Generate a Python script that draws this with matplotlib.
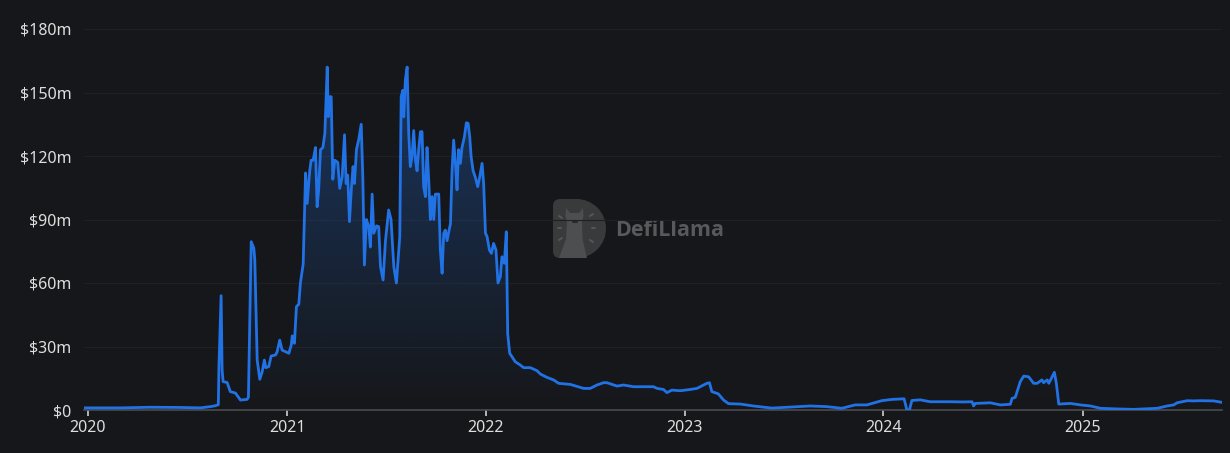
import numpy as np
import pandas as pd
import matplotlib
matplotlib.use("Agg")
import matplotlib.pyplot as plt
import matplotlib.dates as mdates
from matplotlib.patches import Polygon, Wedge, FancyBboxPatch
from matplotlib.ticker import FuncFormatter

# time as decimal year, TVL in $m
t_year = [2019.981, 2020.162, 2020.313, 2020.464, 2020.565, 2020.615, 2020.640, 2020.655,
          2020.658, 2020.669, 2020.674, 2020.679, 2020.699, 2020.715, 2020.741, 2020.766,
          2020.799, 2020.806, 2020.820, 2020.833, 2020.838, 2020.850, 2020.863, 2020.875,
          2020.886, 2020.893, 2020.908, 2020.920, 2020.942, 2020.950, 2020.963, 2020.975,
          2021.009, 2021.021, 2021.026, 2021.037, 2021.047, 2021.059, 2021.067, 2021.081,
          2021.093, 2021.101, 2021.114, 2021.121, 2021.131, 2021.143, 2021.151, 2021.159,
          2021.168, 2021.180, 2021.190, 2021.202, 2021.207, 2021.215, 2021.222, 2021.230,
          2021.240, 2021.255, 2021.265, 2021.277, 2021.289, 2021.297, 2021.305, 2021.314,
          2021.324, 2021.332, 2021.339, 2021.349, 2021.361, 2021.373, 2021.381, 2021.389,
          2021.399, 2021.411, 2021.419, 2021.428, 2021.436, 2021.450, 2021.461, 2021.470,
          2021.483, 2021.495, 2021.511, 2021.523, 2021.537, 2021.550, 2021.562, 2021.567,
          2021.574, 2021.582, 2021.587, 2021.595, 2021.604, 2021.612, 2021.620, 2021.629,
          2021.637, 2021.646, 2021.654, 2021.662, 2021.671, 2021.679, 2021.687, 2021.696,
          2021.704, 2021.712, 2021.721, 2021.730, 2021.738, 2021.746, 2021.763, 2021.771,
          2021.780, 2021.788, 2021.796, 2021.805, 2021.813, 2021.822, 2021.830, 2021.838,
          2021.847, 2021.855, 2021.863, 2021.872, 2021.880, 2021.892, 2021.902, 2021.911,
          2021.919, 2021.926, 2021.936, 2021.947, 2021.959, 2021.969, 2021.981, 2021.989,
          2021.998, 2022.006, 2022.018, 2022.028, 2022.039, 2022.051, 2022.061, 2022.073,
          2022.081, 2022.093, 2022.103, 2022.110, 2022.120, 2022.148, 2022.174, 2022.190,
          2022.224, 2022.257, 2022.274, 2022.308, 2022.341, 2022.366, 2022.425, 2022.492,
          2022.525, 2022.559, 2022.592, 2022.609, 2022.660, 2022.693, 2022.743, 2022.844,
          2022.861, 2022.894, 2022.911, 2022.936, 2022.978, 2023.028, 2023.062, 2023.095,
          2023.112, 2023.125, 2023.137, 2023.170, 2023.196, 2023.221, 2023.280, 2023.346,
          2023.439, 2023.514, 2023.632, 2023.715, 2023.791, 2023.858, 2023.917, 2023.992,
          2024.042, 2024.104, 2024.118, 2024.131, 2024.143, 2024.185, 2024.235, 2024.335,
          2024.402, 2024.445, 2024.453, 2024.461, 2024.537, 2024.587, 2024.637, 2024.646,
          2024.662, 2024.687, 2024.704, 2024.729, 2024.754, 2024.771, 2024.796, 2024.804,
          2024.822, 2024.830, 2024.847, 2024.858, 2024.868, 2024.880, 2024.939, 2024.989,
          2025.039, 2025.090, 2025.174, 2025.257, 2025.375, 2025.425, 2025.458, 2025.475,
          2025.526, 2025.559, 2025.592, 2025.659, 2025.701]

tvl_m = [1.0, 1.0, 1.3, 1.2, 1.0, 1.6, 2.0, 2.5,
         20, 54, 19, 13.4, 13, 8.7, 8, 4.7,
         5, 6, 79.5, 76.5, 71, 23.6, 14.5, 18,
         23.6, 20, 20.5, 25.5, 26, 27.5, 33, 28.3,
         26.8, 30.7, 35, 31.5, 48.8, 50, 60, 69,
         112, 97.6, 113, 118, 118, 124, 96, 104,
         123, 124, 130.7, 162, 138.6, 148, 148, 109,
         118, 117, 104.7, 110, 130, 107, 111, 89,
         105.5, 115, 107, 123, 128, 135, 110, 68.5,
         90, 86.6, 77, 102, 83.5, 87, 86.6, 67.7,
         61.4, 80, 94.5, 90, 67.7, 60, 75.6, 82,
         148, 151, 138.5, 156, 162, 130.7, 115, 120,
         132, 118, 113, 123, 131.5, 131.5, 105.5, 100.8,
         124, 110, 90, 100.8, 90, 102, 102, 75.6,
         64.6, 83.5, 85, 80, 84, 88, 113, 127.5,
         116.5, 104, 123, 116.5, 124, 129, 135.7, 135.4,
         129, 119.7, 113, 110, 105.5, 110, 116.5, 107,
         83.5, 82, 75.6, 74, 78.7, 75.6, 60, 63,
         72.4, 69.3, 84.2, 36, 26.8, 22.8, 21.2, 20,
         20, 18.6, 17, 15.4, 14.2, 12.6, 12.1, 10.2,
         10.2, 11.8, 12.9, 12.9, 11.3, 11.8, 11, 11,
         10.2, 9.7, 8.2, 9.4, 9.1, 9.7, 10.2, 11.8,
         12.6, 12.9, 8.7, 7.6, 4.7, 3.0, 2.8, 1.9,
         0.9, 1.3, 1.9, 1.6, 0.8, 2.4, 2.4, 4.4,
         5, 5.3, 0, 0, 4.5, 4.8, 3.9, 3.9,
         3.8, 3.9, 1.9, 3.1, 3.4, 2.4, 2.7, 5.5,
         6, 13.4, 16, 15.7, 12.6, 12.6, 14.2, 12.9,
         14.2, 12.6, 15.7, 17.8, 12.6, 2.8, 3.1, 2.4,
         1.9, 0.8, 0.5, 0.3, 0.8, 1.9, 2.4, 3.4,
         4.4, 4.3, 4.4, 4.3, 3.6]

y_ticks = [0, 30, 60, 90, 120, 150, 180]


def to_dates(years):
    out = []
    for yv in years:
        yr = int(np.floor(yv))
        start = pd.Timestamp(year=yr, month=1, day=1)
        end = pd.Timestamp(year=yr + 1, month=1, day=1)
        out.append(start + (end - start) * (yv - yr))
    return pd.DatetimeIndex(out)


dates = to_dates(t_year)
x = mdates.date2num(dates)
y = np.array(tvl_m)

bg = "#16171a"
blue = "#2172e5"
plt.rcParams['font.family'] = ['Noto Sans', 'DejaVu Sans']

W, H = 1230, 453
fig = plt.figure(figsize=(W / 100, H / 100), dpi=100, facecolor=bg)
ax = fig.add_axes([84 / W, 43 / H, (1222 - 84) / W, (410 - 29) / H])
ax.set_facecolor(bg)
ax.patch.set_alpha(0)

# watermark logo: a small axes in pixel units, behind the main one
lg = fig.add_axes([553 / W, (H - 258) / H, 53 / W, 59 / H], zorder=-1)
lg.set_xlim(0, 53)
lg.set_ylim(59, 0)
lg.axis("off")
d_col = "#393a3c"
lg.add_patch(FancyBboxPatch((0, 0), 30, 59, boxstyle="round,pad=0,rounding_size=7",
                            fc=d_col, ec="none"))
lg.add_patch(Wedge((23.5, 29.5), 29.5, -90, 90, fc=d_col, ec="none"))
llama = [(13, 9), (17, 14), (26, 14), (30, 9), (30.5, 17), (29, 23), (29.5, 40),
         (34, 59), (6, 59), (13, 40), (14, 23), (12.5, 17)]
lg.add_patch(Polygon(llama, closed=True, fc="#4d4e50", ec="none"))
lg.plot([19.5, 23.5], [23, 23], color="#2a2b2d", lw=1.5, solid_capstyle="round")
for (x0, y0, x1, y1) in [(37, 17, 40, 15), (39, 29, 42, 29), (37, 41, 40, 43),
                         (6, 17, 9, 19), (5, 29, 8, 29), (6, 41, 9, 39)]:
    lg.plot([x0, x1], [y0, y1], color="#555658", lw=1.4, solid_capstyle="round")

fig.text(615 / W, (H - 230) / H, "DefiLlama", color="#58595b", fontsize=15.5,
         fontweight="bold", family=["Open Sans", "DejaVu Sans"], va="center", ha="left",
         zorder=-1)

# gradient fill under the line
poly = ax.fill_between(x, y, 0, facecolor="none", edgecolor="none")
rgba = np.zeros((256, 1, 4))
rgba[..., 0] = 33 / 255
rgba[..., 1] = 114 / 255
rgba[..., 2] = 229 / 255
rgba[..., 3] = np.linspace(0.34, 0.0, 256).reshape(-1, 1)
img = ax.imshow(rgba, aspect="auto", extent=[x.min(), x.max(), 0, max(tvl_m)],
                origin="upper", zorder=1)
img.set_clip_path(poly.get_paths()[0], transform=ax.transData)

ax.plot(x, y, color=blue, lw=2.0, zorder=3, solid_joinstyle="round")

ax.set_xlim(x.min(), x.max())
ax.set_ylim(0, 180)
ax.set_yticks(y_ticks)
ax.yaxis.set_major_formatter(FuncFormatter(lambda v, p: "$0" if v == 0 else "$%dm" % v))
ax.xaxis.set_major_locator(mdates.YearLocator())
ax.xaxis.set_major_formatter(mdates.DateFormatter("%Y"))

ax.grid(axis="y", color="#1f2024", lw=0.8)
ax.set_axisbelow(True)
for s in ["top", "right", "left"]:
    ax.spines[s].set_visible(False)
ax.spines["bottom"].set_color("#4a4b50")
ax.spines["bottom"].set_linewidth(1.2)
ax.tick_params(axis="y", length=0, pad=9, labelsize=11.5, labelcolor="#dedede")
ax.tick_params(axis="x", length=4, width=1.2, color="#d0d0d0", pad=3,
               labelsize=11.5, labelcolor="#dedede")

fig.savefig("out.png", dpi=100, facecolor=bg)
